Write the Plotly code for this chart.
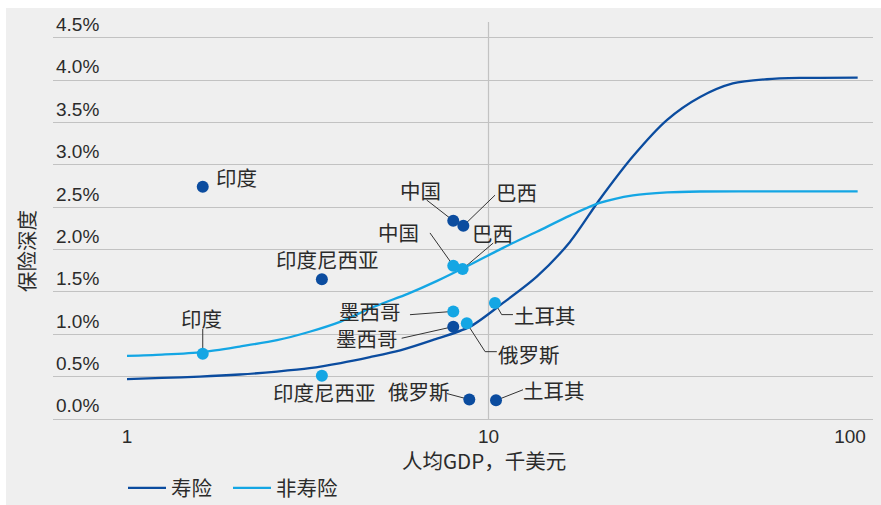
import math
import plotly.graph_objects as go

# ---- data: GDP per capita (thousand USD, log scale) vs insurance penetration (%) ----
life_gdp = [1.00, 1.25, 1.59, 2.05, 2.60, 3.20, 3.90, 4.70, 5.70, 7.00, 8.89, 10.97,
            13.6, 16.8, 20.3, 25.1, 31.2, 38.5, 47.4, 58.9, 72.7, 105]
life_depth = [0.47, 0.485, 0.50, 0.525, 0.56, 0.60, 0.66, 0.73, 0.81, 0.93, 1.09, 1.37,
              1.68, 2.09, 2.59, 3.10, 3.53, 3.80, 3.96, 4.01, 4.025, 4.03]

nonlife_gdp = [1.00, 1.25, 1.62, 2.05, 2.60, 3.20, 3.90, 4.86, 6.00, 7.21, 8.89, 10.97,
               13.6, 16.8, 20.3, 25.1, 31.2, 38.5, 60.0, 105]
nonlife_depth = [0.745, 0.76, 0.79, 0.855, 0.93, 1.03, 1.15, 1.33, 1.48, 1.63, 1.82, 2.02,
                 2.21, 2.40, 2.55, 2.64, 2.675, 2.685, 2.687, 2.687]

countries = ["印度", "印度尼西亚", "中国", "巴西", "墨西哥", "俄罗斯", "土耳其"]
life_country_gdp = [1.62, 3.46, 7.99, 8.52, 7.99, 8.85, 10.49]
life_country_depth = [2.74, 1.65, 2.34, 2.28, 1.09, 0.23, 0.22]
nonlife_country_gdp = [1.62, 3.46, 7.99, 8.48, 7.99, 8.71, 10.42]
nonlife_country_depth = [0.77, 0.51, 1.81, 1.77, 1.27, 1.13, 1.37]

y_ticks = [0, 0.5, 1.0, 1.5, 2.0, 2.5, 3.0, 3.5, 4.0, 4.5]
x_ticks = [1, 10, 100]

# ---- layout geometry ----
W, H = 881, 505
M_L, M_R, M_T, M_B = 53, 8, 8, 86
PLOT_W = W - M_L - M_R
PLOT_H = H - M_T - M_B
PX_PER_DECADE = 361.5
PX_PER_PCT = 84.73
X_LEFT = -(127 - M_L) / PX_PER_DECADE
X_RANGE = [X_LEFT, X_LEFT + PLOT_W / PX_PER_DECADE]
Y_RANGE = [0, PLOT_H / PX_PER_PCT]
Y_TOP_LINE = 4.685   # top of the 10k reference line

DARK = "#0b4c9f"
LIGHT = "#14a6e4"
TEXT = "#2b2b2b"
GRID = "#c2c2c2"
BG = "#efefef"
CJK = "Noto Sans CJK SC"
CJK_SIZE = 20.5

# label placement: (dx, dy) screen-pixel offset of the text centre from its dot,
# followed by the leader-line bend points (also pixel offsets from the dot)
life_labels = [
    ((34, -10), []),
    ((6, -20), []),
    ((-33, -31), [(-26.6, -20.7)]),
    ((53, -34), [(31.7, -30.7)]),
    ((-86, 11), [(-51.6, 11.6)]),
    ((-50, -9), [(-22.6, -6)]),
    ((58, -10), [(27, -10.6)]),
]
nonlife_labels = [
    ((-1, -36), [(0, -25)]),
    ((3, 16), []),
    ((-55, -34), [(-23.3, -32.7)]),
    ((30, -36), [(30.6, -26)]),
    ((-83, 0), [(-43.3, 3.3)]),
    ((62, 31), [(18.3, 28.4), (30, 28.4)]),
    ((50, 12), [(6.7, 11.7), (18, 11.7)]),
]


def offset(x, y, dx, dy):
    """Move a data point by a screen-pixel offset on the log-x / linear-y axes."""
    return x * 10 ** (dx / PX_PER_DECADE), y - dy / PX_PER_PCT


fig = go.Figure()

# leader lines (under the dots)
lx, ly = [], []
for gdp, depth, labels in ((life_country_gdp, life_country_depth, life_labels),
                           (nonlife_country_gdp, nonlife_country_depth, nonlife_labels)):
    for x, y, (_, path) in zip(gdp, depth, labels):
        if not path:
            continue
        pts = [(x, y)] + [offset(x, y, dx, dy) for dx, dy in path]
        lx += [p[0] for p in pts] + [None]
        ly += [p[1] for p in pts] + [None]
fig.add_trace(go.Scatter(x=lx, y=ly, mode="lines", line=dict(color="#333333", width=1),
                         showlegend=False, hoverinfo="skip"))

# curves, each with its own legend box
fig.add_trace(go.Scatter(x=life_gdp, y=life_depth, mode="lines", name="寿险",
                         legend="legend",
                         line=dict(color=DARK, width=2.3, shape="spline", smoothing=0.8)))
fig.add_trace(go.Scatter(x=nonlife_gdp, y=nonlife_depth, mode="lines", name="非寿险",
                         legend="legend2",
                         line=dict(color=LIGHT, width=2.3, shape="spline", smoothing=0.8)))

# country dots
fig.add_trace(go.Scatter(x=life_country_gdp, y=life_country_depth, mode="markers",
                         marker=dict(color=DARK, size=12), text=countries,
                         showlegend=False))
fig.add_trace(go.Scatter(x=nonlife_country_gdp, y=nonlife_country_depth, mode="markers",
                         marker=dict(color=LIGHT, size=12), text=countries,
                         showlegend=False))

annotations = []
for gdp, depth, labels in ((life_country_gdp, life_country_depth, life_labels),
                           (nonlife_country_gdp, nonlife_country_depth, nonlife_labels)):
    for name, x, y, ((dx, dy), _) in zip(countries, gdp, depth, labels):
        # annotation x on a log axis is given in log10 units
        annotations.append(dict(x=math.log10(x), y=y, xref="x", yref="y", text=name,
                                showarrow=False, xshift=dx, yshift=-dy,
                                xanchor="center", yanchor="middle",
                                font=dict(family=CJK, size=CJK_SIZE, color=TEXT)))

# axis titles
annotations.append(dict(text="人均GDP，千美元", xref="paper", yref="paper",
                        x=(484 - M_L) / PLOT_W, y=(H - M_B - 460) / PLOT_H,
                        showarrow=False, xanchor="center", yanchor="middle",
                        font=dict(family=CJK, size=20.5, color=TEXT)))
annotations.append(dict(text="保险深度", xref="paper", yref="paper", textangle=-90,
                        x=(26 - M_L) / PLOT_W, y=(H - M_B - 251) / PLOT_H,
                        showarrow=False, xanchor="center", yanchor="middle",
                        font=dict(family=CJK, size=CJK_SIZE, color=TEXT)))

shapes = [
    # vertical reference line at 10k USD
    dict(type="line", xref="x", yref="y", x0=10, x1=10, y0=0, y1=Y_TOP_LINE,
         line=dict(color=GRID, width=1.2), layer="below"),
    # thin white frame strips at the top and left of the panel
    dict(type="rect", xref="paper", yref="paper", x0=-0.1, x1=1.1,
         y0=1.0, y1=1.2, fillcolor="white", line=dict(width=0), layer="above"),
    dict(type="rect", xref="paper", yref="paper", x0=-0.1, x1=(6 - M_L) / PLOT_W,
         y0=-0.3, y1=1.2, fillcolor="white", line=dict(width=0), layer="above"),
]

legend_style = dict(orientation="h", xanchor="left", yanchor="middle",
                    y=(H - M_B - 488) / PLOT_H, bgcolor="rgba(0,0,0,0)",
                    font=dict(family=CJK, size=CJK_SIZE, color=TEXT), itemwidth=38)

fig.update_layout(
    width=W, height=H,
    margin=dict(l=M_L, r=M_R, t=M_T, b=M_B, pad=0, autoexpand=False),
    paper_bgcolor=BG, plot_bgcolor=BG,
    font=dict(family="Liberation Sans", size=19, color=TEXT),
    annotations=annotations, shapes=shapes,
    legend=dict(x=(123 - M_L) / PLOT_W, **legend_style),
    legend2=dict(x=(228 - M_L) / PLOT_W, **legend_style),
    xaxis=dict(type="log", range=X_RANGE, tickvals=x_ticks, ticktext=[str(v) for v in x_ticks],
               showgrid=False, zeroline=False, showline=True, linecolor=GRID, linewidth=1.2,
               ticks="", ticklabelstandoff=0,
               tickfont=dict(family="Liberation Sans", size=19, color=TEXT)),
    yaxis=dict(range=Y_RANGE, tickvals=y_ticks, ticktext=[f"{v:.1f}%" for v in y_ticks],
               showgrid=True, gridcolor=GRID, gridwidth=1.2, zeroline=False, showline=False,
               ticks="", ticklabelposition="inside top",
               tickfont=dict(family="Liberation Sans", size=19, color=TEXT)),
    hovermode=False,
)

fig.write_html("out.html")
